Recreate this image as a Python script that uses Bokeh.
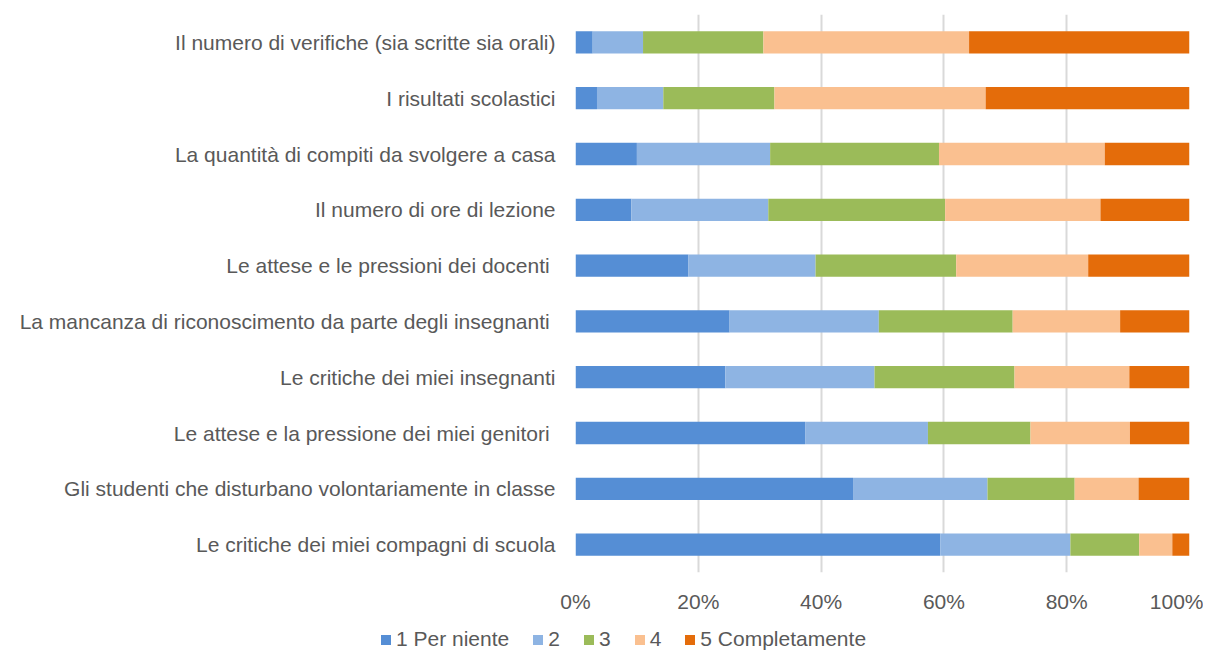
from bokeh.plotting import figure
from bokeh.layouts import column
from bokeh.models import ColumnDataSource, FactorRange, Range1d, NumeralTickFormatter, FixedTicker, Div
from bokeh.embed import file_html
from bokeh.resources import INLINE

categories = [
    "Il numero di verifiche (sia scritte sia orali)",
    "I risultati scolastici",
    "La quantità di compiti da svolgere a casa",
    "Il numero di ore di lezione",
    "Le attese e le pressioni dei docenti ",
    "La mancanza di riconoscimento da parte degli insegnanti ",
    "Le critiche dei miei insegnanti",
    "Le attese e la pressione dei miei genitori ",
    "Gli studenti che disturbano volontariamente in classe",
    "Le critiche dei miei compagni di scuola",
]
series_names = ["1 Per niente", "2", "3", "4", "5 Completamente"]
s1 = [2.8, 3.5, 10.0, 9.1, 18.4, 25.1, 24.4, 37.4, 45.2, 59.4]
s2 = [8.2, 10.8, 21.7, 22.3, 20.7, 24.3, 24.3, 20.0, 21.9, 21.2]
s3 = [19.6, 18.1, 27.5, 28.8, 22.9, 21.8, 22.8, 16.7, 14.2, 11.2]
s4 = [33.5, 34.4, 27.0, 25.3, 21.5, 17.5, 18.7, 16.2, 10.4, 5.4]
s5 = [35.9, 33.2, 13.8, 14.5, 16.5, 11.3, 9.8, 9.7, 8.3, 2.8]
colors = ["#558ED5", "#8EB4E3", "#9BBB59", "#FAC090", "#E46C0A"]
x_ticks = [0, 0.2, 0.4, 0.6, 0.8, 1.0]

FONT = "Liberation Sans"
TXT = "#595959"

keys = ["s1", "s2", "s3", "s4", "s5"]
data = {"cat": categories}
for k, s in zip(keys, [s1, s2, s3, s4, s5]):
    data[k] = [v / 100.0 for v in s]
source = ColumnDataSource(data)

p = figure(width=1203, height=620, output_backend="svg", toolbar_location=None,
           y_range=FactorRange(factors=list(reversed(categories))),
           x_range=Range1d(0, 1),
           min_border_left=575, min_border_right=14, min_border_top=14, min_border_bottom=48)

p.hbar_stack(keys, y="cat", height=0.4, color=colors, line_color=None, source=source)

p.outline_line_color = None
p.ygrid.grid_line_color = None
p.xgrid.grid_line_color = "#d9d9d9"
p.xgrid.grid_line_width = 2
p.xgrid.ticker = FixedTicker(ticks=x_ticks)

p.xaxis.ticker = FixedTicker(ticks=x_ticks)
p.xaxis.formatter = NumeralTickFormatter(format="0%")
p.xaxis.axis_line_color = None
p.xaxis.major_tick_line_color = None
p.xaxis.minor_tick_line_color = None
p.xaxis.major_tick_out = 0
p.xaxis.major_label_standoff = 17
p.xaxis.major_label_text_font = FONT
p.xaxis.major_label_text_font_size = "21px"
p.xaxis.major_label_text_color = TXT

p.yaxis.axis_line_color = None
p.yaxis.major_tick_line_color = None
p.yaxis.minor_tick_line_color = None
p.yaxis.major_tick_out = 0
p.yaxis.major_label_standoff = 20
p.yaxis.major_label_text_font = FONT
p.yaxis.major_label_text_font_size = "21px"
p.yaxis.major_label_text_color = TXT

# Legend below the chart, as real text
items_html = "".join(
    f'<span style="display:inline-block;margin-right:24px;">'
    f'<span style="display:inline-block;width:10px;height:10px;background:{c};'
    f'margin-right:5px;vertical-align:middle;"></span>{n}</span>'
    for n, c in zip(series_names, colors)
)
legend_div = Div(
    text=f'<div style="padding-left:376px;white-space:nowrap;font-family:\'{FONT}\';'
         f'font-size:21px;color:{TXT};line-height:28px;">{items_html}</div>',
    width=1203, height=28,
)

layout = column(p, legend_div, spacing=0)
open("out.html", "w").write(file_html(layout, INLINE))
